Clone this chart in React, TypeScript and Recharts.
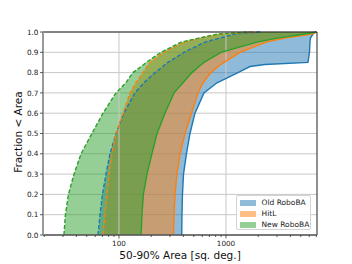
import {
  ComposedChart,
  Area,
  Line,
  XAxis,
  YAxis,
  CartesianGrid,
  ReferenceLine,
} from "recharts";

// cumulative fraction grid (y) and the area read at each level (x, sq. deg.)
const fractions = [0, 0.1, 0.2, 0.3, 0.4, 0.5, 0.6, 0.7, 0.75, 0.8, 0.83, 0.84, 0.85, 0.9, 0.95, 0.97, 0.99, 1.0];

const old50 = [63.7, 66.5, 70.1, 75.6, 82.4, 93.8, 111, 141, 171, 217, 258, 269, 287, 405, 636, 879, 1188, 2078];
const old90 = [386, 388, 392, 401, 427, 461, 513, 623, 824, 1295, 1676, 2314, 5840, 6031, 6095, 6160, 6504, 6936];
const hitl50 = [70.9, 74.0, 77.3, 80.7, 86.0, 93.8, 109, 127, 144, 168, 183, 189, 195, 263, 405, 572, 879, 1867];
const hitl90 = [323, 327, 334, 348, 372, 414, 476, 547, 610, 724, 842, 898, 958, 1352, 2365, 3560, 6364, 7000];
const new50 = [30.6, 31.6, 33.7, 38.0, 44.2, 55.9, 70.9, 93.8, 116, 135, 161, 171, 179, 247, 380, 559, 842, 1676];
const new90 = [161, 164, 169, 183, 203, 227, 269, 327, 396, 481, 559, 590, 623, 898, 1949, 2997, 5474, 7000];

const xTicks = [
  20, 30, 40, 50, 60, 70, 80, 90, 100, 200, 300, 400, 500, 600, 700, 800, 900, 1000, 2000, 3000, 4000,
  5000, 6000, 7000,
];
const xLabelled = [100, 1000];
const yTicks = [0, 0.1, 0.2, 0.3, 0.4, 0.5, 0.6, 0.7, 0.8, 0.9, 1.0];

const legendItems = [
  { name: "Old RoboBA", color: "#1f77b4" },
  { name: "HitL", color: "#ff7f0e" },
  { name: "New RoboBA", color: "#2ca02c" },
];

const rows = fractions.map((f, i) => ({
  f,
  old50: old50[i],
  old90: old90[i],
  hitl50: hitl50[i],
  hitl90: hitl90[i],
  new50: new50[i],
  new90: new90[i],
}));

const FONT = "'DejaVu Sans', sans-serif";
const X_MIN = 19.5;
const X_MAX = 7090;

const XTick = (props: any) => {
  const { x, y, payload } = props;
  const major = xLabelled.includes(payload.value);
  return (
    <g>
      <line x1={x} x2={x} y1={y} y2={y + (major ? 3.5 : 2)} stroke="#333" strokeWidth={0.8} />
      {major && (
        <text x={x} y={y + 11} textAnchor="middle" fontSize={7.2} fontFamily={FONT} fill="#222">
          {payload.value}
        </text>
      )}
    </g>
  );
};

const YTick = (props: any) => {
  const { x, y, payload } = props;
  return (
    <g>
      <line x1={x - 3} x2={x} y1={y} y2={y} stroke="#333" strokeWidth={0.8} />
      <text x={x - 4.5} y={y + 2.6} textAnchor="end" fontSize={7.3} fontFamily={FONT} fill="#222">
        {Number(payload.value).toFixed(1)}
      </text>
    </g>
  );
};

export default function App() {
  return (
    <div style={{ position: "absolute", left: 0, top: 0, width: 352, height: 264, background: "#fff" }}>
      <ComposedChart
        width={352}
        height={264}
        layout="vertical"
        data={rows}
        margin={{ top: 32, right: 35, bottom: 9, left: 13 }}
      >
        <CartesianGrid vertical={false} stroke="#c8c8c8" strokeWidth={1} />
        <ReferenceLine x={100} stroke="#c8c8c8" strokeWidth={1} />
        <ReferenceLine x={1000} stroke="#c8c8c8" strokeWidth={1} />
        <XAxis
          type="number"
          scale="log"
          domain={[X_MIN, X_MAX]}
          allowDataOverflow
          ticks={xTicks}
          interval={0}
          tick={<XTick />}
          tickLine={false}
          tickSize={0}
          tickMargin={0}
          axisLine={false}
          height={20}
        />
        <YAxis
          type="number"
          dataKey="f"
          domain={[0, 1]}
          reversed
          ticks={yTicks}
          interval={0}
          tick={<YTick />}
          tickLine={false}
          tickSize={0}
          tickMargin={0}
          axisLine={false}
          width={30}
        />
        <Area
          type="linear"
          dataKey={(d: any) => [d.old50, d.old90]}
          fill="#1f77b4"
          fillOpacity={0.5}
          stroke="none"
          isAnimationActive={false}
        />
        <Area
          type="linear"
          dataKey={(d: any) => [d.hitl50, d.hitl90]}
          fill="#ff7f0e"
          fillOpacity={0.5}
          stroke="none"
          isAnimationActive={false}
        />
        <Area
          type="linear"
          dataKey={(d: any) => [d.new50, d.new90]}
          fill="#2ca02c"
          fillOpacity={0.5}
          stroke="none"
          isAnimationActive={false}
        />
        <Line type="linear" dataKey="old50" stroke="#1f77b4" strokeWidth={1.4} strokeDasharray="4 2" dot={false} isAnimationActive={false} />
        <Line type="linear" dataKey="old90" stroke="#1f77b4" strokeWidth={1.4} dot={false} isAnimationActive={false} />
        <Line type="linear" dataKey="hitl50" stroke="#ff7f0e" strokeWidth={1.4} strokeDasharray="4 2" dot={false} isAnimationActive={false} />
        <Line type="linear" dataKey="hitl90" stroke="#ff7f0e" strokeWidth={1.4} dot={false} isAnimationActive={false} />
        <Line type="linear" dataKey="new50" stroke="#2ca02c" strokeWidth={1.4} strokeDasharray="4 2" dot={false} isAnimationActive={false} />
        <Line type="linear" dataKey="new90" stroke="#2ca02c" strokeWidth={1.4} dot={false} isAnimationActive={false} />
        {/* frame */}
        <ReferenceLine y={1} stroke="#222" strokeWidth={1} />
        <ReferenceLine x={X_MAX} stroke="#222" strokeWidth={1} />
        <ReferenceLine y={0} stroke="#555" strokeWidth={1.5} />
        <ReferenceLine x={X_MIN} stroke="#999" strokeWidth={2} />
      </ComposedChart>

      <div
        style={{
          position: "absolute",
          left: 18,
          top: 132,
          transform: "translate(-50%, -50%) rotate(-90deg)",
          fontFamily: FONT,
          fontSize: 10.5,
          color: "#111",
          whiteSpace: "nowrap",
        }}
      >
        Fraction &lt; Area
      </div>
      <div
        style={{
          position: "absolute",
          left: 180,
          top: 255,
          transform: "translate(-50%, -50%)",
          fontFamily: FONT,
          fontSize: 10.5,
          color: "#111",
          whiteSpace: "nowrap",
        }}
      >
        50-90% Area [sq. deg.]
      </div>

      <div
        style={{
          position: "absolute",
          left: 236,
          top: 195,
          width: 75,
          height: 35,
          boxSizing: "border-box",
          border: "1px solid #d4d4d4",
          borderRadius: 2,
          background: "rgba(255,255,255,0.8)",
        }}
      >
        {legendItems.map((item, i) => (
          <div
            key={item.name}
            style={{ position: "absolute", left: 3, top: 3 + i * 11, height: 8, display: "flex", alignItems: "center" }}
          >
            <div style={{ width: 15.5, height: 5.5, background: item.color, opacity: 0.5 }} />
            <span
              style={{
                marginLeft: 6,
                fontFamily: FONT,
                fontSize: 7.5,
                color: "#222",
                whiteSpace: "nowrap",
                lineHeight: "8px",
              }}
            >
              {item.name}
            </span>
          </div>
        ))}
      </div>
    </div>
  );
}
